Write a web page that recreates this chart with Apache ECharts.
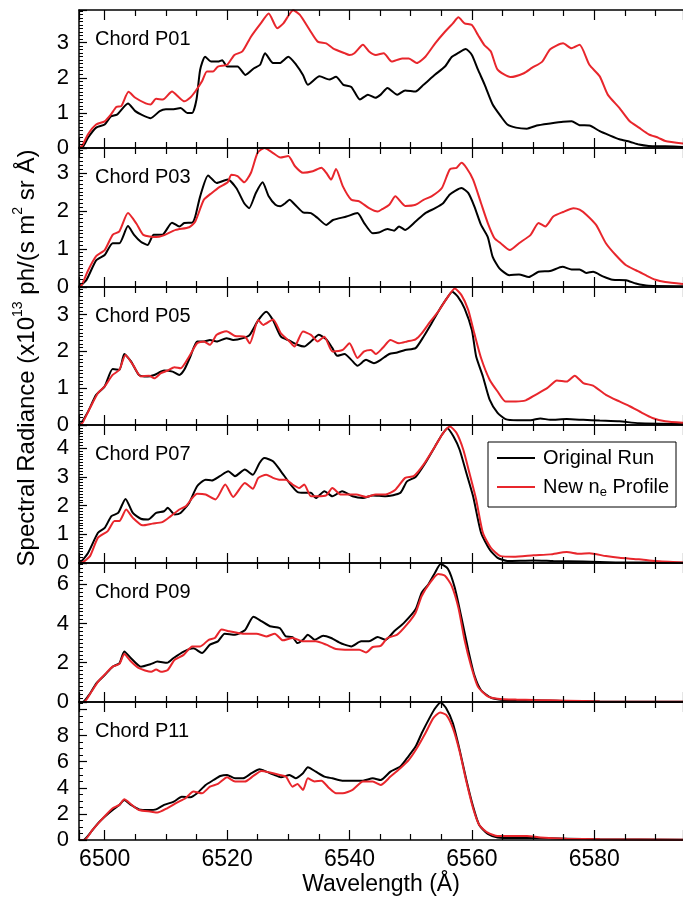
<!DOCTYPE html>
<html>
<head>
<meta charset="utf-8">
<title>Chord spectra</title>
<script src="https://cdn.jsdelivr.net/npm/echarts@6/dist/echarts.min.js"></script>
<style>
    html, body { margin: 0; padding: 0; background: #fff; }
    #chart { width: 683px; height: 899px; }
</style>
</head>
<body>
<div id="chart"></div>
<script>
// x axis (wavelength, Å)
const xMin = 6495.8;
const xMax = 6594.5;
const xTicks = [6500, 6520, 6540, 6560, 6580];

// panels
const chords = ["Chord P01", "Chord P03", "Chord P05", "Chord P07", "Chord P09", "Chord P11"];
const yMax = [3.93, 3.65, 3.75, 4.8, 7.08, 10.58];
const yStep = [1, 1, 1, 1, 2, 2];
const yLabelTop = [3, 3, 3, 4, 6, 8];
const yMinorSplit = [10, 10, 10, 10, 10, 4];

// [wavelength, radiance]
const p01Orig = [[6495.8,0.02],[6496.5,0.05],[6497.3,0.3],[6498.6,0.58],[6500,0.67],[6501,0.9],[6502,0.95],[6503.8,1.27],[6505,1.05],[6506,0.95],[6507.5,0.85],[6509,1.05],[6510,1.1],[6511,1.1],[6512.4,1.14],[6513.5,1.0],[6514.3,1.0],[6515,1.38],[6515.6,2.23],[6516.4,2.6],[6517.4,2.46],[6518.5,2.46],[6519.2,2.5],[6520,2.32],[6521.7,2.32],[6523,2.08],[6524.4,2.27],[6525.4,2.37],[6526.2,2.7],[6527.5,2.42],[6528.6,2.42],[6530,2.6],[6531.3,2.37],[6532.4,2.08],[6533.2,1.8],[6535.1,2.04],[6536.7,1.95],[6537.8,2.03],[6539,1.8],[6540.3,1.74],[6541.7,1.38],[6543,1.52],[6544.2,1.43],[6545.1,1.52],[6546.2,1.71],[6547.8,1.52],[6549.1,1.64],[6550.8,1.61],[6552.1,1.8],[6554,2.09],[6555.6,2.32],[6556.7,2.59],[6557.7,2.7],[6559,2.82],[6560,2.65],[6561,2.23],[6562.1,1.8],[6563.4,1.24],[6564.7,0.91],[6565.8,0.67],[6567.2,0.58],[6569,0.55],[6570.6,0.64],[6572.8,0.7],[6574.9,0.75],[6576.3,0.76],[6577.6,0.65],[6579.2,0.64],[6580.9,0.48],[6582.5,0.36],[6584.1,0.25],[6585.8,0.18],[6587.3,0.1],[6588.9,0.06],[6591.6,0.05],[6594.5,0.03]];
const p01New = [[6495.8,0.02],[6496.3,0.06],[6497.3,0.4],[6498.6,0.67],[6500,0.76],[6501,0.95],[6501.9,1.17],[6502.7,1.19],[6503.9,1.6],[6505,1.43],[6506.7,1.27],[6507.5,1.24],[6508.4,1.4],[6509.5,1.38],[6511,1.61],[6512.2,1.43],[6513,1.33],[6514,1.44],[6514.8,1.61],[6515.9,1.9],[6516.7,2.18],[6517.7,2.18],[6518.5,2.32],[6520,2.37],[6521.2,2.65],[6522.5,2.75],[6523.9,3.17],[6525.5,3.55],[6526.8,3.83],[6528.2,3.41],[6529.2,3.55],[6530.8,3.92],[6531.9,3.79],[6533.5,3.36],[6534.8,3.03],[6536.2,2.98],[6537.3,2.84],[6539.2,2.7],[6540,2.65],[6540.8,2.7],[6542.2,2.94],[6543.2,2.75],[6544.3,2.65],[6545.6,2.7],[6546.9,2.46],[6548.6,2.55],[6549.7,2.55],[6551,2.42],[6552.4,2.6],[6554,2.98],[6555.6,3.31],[6556.9,3.55],[6557.8,3.72],[6558.8,3.55],[6560,3.5],[6561,3.22],[6562,2.94],[6563.1,2.75],[6564.2,2.23],[6566.3,2.02],[6568.5,2.13],[6569.8,2.28],[6571.5,2.46],[6572.8,2.81],[6574.9,2.98],[6576.3,2.84],[6577.6,2.94],[6579.2,2.37],[6580.9,2.04],[6582.2,1.52],[6584.1,1.14],[6585.8,0.76],[6587.3,0.58],[6588.9,0.39],[6590.5,0.29],[6591.6,0.2],[6594.5,0.13]];

const p03Orig = [[6495.8,0.01],[6497,0.18],[6498.6,0.7],[6500,0.84],[6501.3,1.15],[6502.4,1.15],[6503.8,1.6],[6504.8,1.37],[6505.9,1.19],[6507,1.1],[6508,1.37],[6509.4,1.37],[6511,1.69],[6512.2,1.59],[6513,1.68],[6514.3,1.69],[6514.8,1.85],[6515.6,2.38],[6516.9,2.93],[6518.3,2.73],[6520.1,2.82],[6521.5,2.6],[6522.8,2.2],[6523.6,2.07],[6524.7,2.47],[6525.8,2.75],[6526.8,2.38],[6527.9,2.16],[6528.7,2.12],[6529.5,2.2],[6530.2,2.29],[6531.1,2.16],[6532.4,1.96],[6533.7,1.94],[6534.8,1.81],[6536.2,1.63],[6537.3,1.76],[6539.5,1.85],[6541.3,1.94],[6542.4,1.68],[6543.8,1.41],[6544.8,1.43],[6546.2,1.52],[6547.3,1.48],[6548.1,1.59],[6549.1,1.5],[6550.8,1.72],[6552.4,1.94],[6554,2.07],[6555.3,2.2],[6556.4,2.43],[6558.3,2.6],[6559.4,2.47],[6560.4,2.12],[6561.5,1.63],[6562.6,1.31],[6563.4,0.79],[6564.5,0.49],[6566.1,0.31],[6567.7,0.33],[6569.3,0.26],[6570.9,0.4],[6572.8,0.42],[6574.8,0.53],[6576.3,0.46],[6577.6,0.46],[6578.7,0.37],[6579.8,0.4],[6581.4,0.28],[6583,0.19],[6585.2,0.18],[6586.8,0.09],[6588.9,0.03],[6594.5,0.02]];
const p03New = [[6495.8,0.01],[6496.2,0.04],[6497.3,0.44],[6498.6,0.81],[6500,0.97],[6501.3,1.37],[6502.4,1.46],[6503.8,1.94],[6505.2,1.66],[6506.3,1.37],[6508.4,1.31],[6509.5,1.35],[6511.6,1.5],[6513.8,1.57],[6514.8,1.72],[6516.2,2.29],[6517.5,2.47],[6518.8,2.63],[6520.1,2.75],[6520.7,2.95],[6521.7,2.91],[6522.8,2.75],[6523.9,3.0],[6525,3.53],[6526.1,3.65],[6527.4,3.53],[6528.7,3.4],[6530,3.44],[6531.1,3.17],[6532.4,3.0],[6534,3.04],[6535.4,3.13],[6536.2,3.0],[6537,2.82],[6537.8,3.1],[6538.9,2.65],[6540.3,2.29],[6541.6,2.25],[6543.2,2.07],[6544.6,1.98],[6545.4,2.05],[6546.5,2.16],[6547.5,2.38],[6549.1,2.13],[6550.8,2.16],[6552.1,2.29],[6553.4,2.38],[6555.1,2.6],[6556.4,3.09],[6557.5,3.13],[6558.3,3.26],[6559.1,3.13],[6560.2,2.82],[6561.5,2.2],[6562.6,1.68],[6563.7,1.28],[6564.7,1.15],[6566.2,0.97],[6567.7,1.15],[6569.6,1.37],[6570.9,1.68],[6572,1.59],[6573.3,1.85],[6574.9,1.97],[6576.6,2.07],[6577.6,2.03],[6578.7,1.9],[6580.3,1.63],[6581.9,1.15],[6583.5,0.84],[6585.2,0.57],[6586.8,0.44],[6588.4,0.31],[6590,0.19],[6591.6,0.13],[6594.5,0.08]];

const p05Orig = [[6495.8,0],[6496,0.01],[6497.3,0.37],[6498.6,0.82],[6500,1.05],[6501.3,1.52],[6502.4,1.5],[6503.2,1.93],[6504.3,1.73],[6505.6,1.36],[6507,1.32],[6508.1,1.36],[6509.7,1.48],[6511.1,1.45],[6512.2,1.36],[6513,1.5],[6514,1.86],[6515.1,2.27],[6516.2,2.27],[6517.2,2.31],[6518.3,2.27],[6519.9,2.36],[6521,2.31],[6522.6,2.36],[6523.7,2.45],[6525.1,2.85],[6526.4,3.08],[6527.5,2.85],[6528.8,2.4],[6530.2,2.29],[6531.5,2.18],[6532.6,2.13],[6533.7,2.27],[6535,2.45],[6536.2,2.33],[6537.2,2.09],[6538,1.88],[6539.2,1.93],[6540.3,1.77],[6541.3,1.61],[6542.7,1.77],[6544,1.68],[6545.1,1.77],[6546.5,1.93],[6547.8,1.97],[6549.1,2.04],[6550.8,2.09],[6552.1,2.4],[6553.4,2.76],[6554.5,3.08],[6555.9,3.44],[6556.8,3.62],[6557.7,3.49],[6558.8,3.17],[6560,2.58],[6560.7,1.86],[6561.8,1.32],[6562.9,0.69],[6564.2,0.33],[6565.5,0.16],[6567.4,0.13],[6569.6,0.13],[6571.2,0.18],[6572.8,0.14],[6575.5,0.16],[6578.2,0.14],[6580.9,0.12],[6584.1,0.1],[6587.3,0.05],[6594.5,0.03]];
const p05New = [[6495.8,0],[6496.3,0.04],[6497.6,0.46],[6498.9,0.87],[6500,1.05],[6501.3,1.36],[6502.4,1.5],[6503.4,1.9],[6504.6,1.64],[6505.9,1.32],[6507.3,1.34],[6508.1,1.27],[6509.2,1.41],[6510.3,1.48],[6511.4,1.57],[6512.4,1.54],[6513.8,1.86],[6515.1,2.22],[6516.2,2.27],[6517.2,2.18],[6518.3,2.45],[6519.9,2.55],[6521.3,2.42],[6522.9,2.4],[6523.7,2.22],[6525.1,2.85],[6525.9,2.72],[6527.5,2.87],[6528.8,2.49],[6530.2,2.27],[6531,2.13],[6532.4,2.54],[6533.7,2.45],[6534.8,2.27],[6535.9,2.4],[6537.2,2.0],[6538.9,2.04],[6540,2.22],[6541.3,1.82],[6542.4,2.0],[6543.5,2.04],[6544.3,1.93],[6545.4,2.09],[6546.7,2.31],[6548.1,2.22],[6549.4,2.27],[6550.8,2.33],[6551.8,2.49],[6553.2,2.81],[6554.5,3.08],[6555.9,3.44],[6557.2,3.71],[6558.3,3.53],[6559.4,3.13],[6560.4,2.49],[6561.5,1.82],[6562.9,1.23],[6564.2,0.91],[6565.5,0.64],[6567.2,0.64],[6568.8,0.67],[6570.4,0.82],[6572.3,1.0],[6573.9,1.21],[6575.5,1.18],[6576.8,1.34],[6578.2,1.14],[6579.8,1.07],[6581.9,0.82],[6584.1,0.64],[6585.8,0.51],[6587.8,0.33],[6589.5,0.19],[6591.6,0.1],[6594.5,0.06]];

const p07Orig = [[6495.8,0],[6496,0.01],[6497.3,0.36],[6498.9,1.05],[6500,1.22],[6501.1,1.63],[6502.2,1.74],[6503.4,2.23],[6504.6,1.74],[6505.9,1.54],[6507.1,1.51],[6508.4,1.74],[6509.7,1.8],[6510.3,1.92],[6511.4,1.69],[6512.4,1.74],[6513.8,2.09],[6515.1,2.67],[6516.5,2.9],[6517.5,2.87],[6518.8,3.02],[6520.2,3.19],[6521.3,3.02],[6522.9,3.25],[6524.2,3.07],[6525.3,3.48],[6526.1,3.65],[6527.5,3.54],[6528.8,3.19],[6530.2,2.78],[6531.5,2.47],[6532.6,2.44],[6533.7,2.44],[6534.5,2.26],[6535.9,2.5],[6537.2,2.32],[6538.8,2.5],[6540.5,2.32],[6542.2,2.26],[6543.8,2.35],[6545.9,2.32],[6548.3,2.44],[6549.4,2.84],[6550.8,2.99],[6552.4,3.48],[6554,4.06],[6555.1,4.46],[6556,4.69],[6557,4.4],[6558,3.94],[6559.1,3.13],[6560.2,2.32],[6561.5,1.05],[6562.9,0.47],[6564.2,0.18],[6565.8,0.07],[6570.1,0.09],[6573.3,0.07],[6578.2,0.05],[6583.5,0.02],[6594.5,0.01]];
const p07New = [[6495.8,0],[6496.3,0.01],[6497.6,0.24],[6498.9,0.88],[6500.5,1.11],[6501.6,1.46],[6502.4,1.46],[6503.5,1.86],[6504.6,1.57],[6506.2,1.31],[6507.8,1.37],[6509.4,1.42],[6510.8,1.63],[6512.2,1.86],[6513.3,1.98],[6514.3,2.26],[6515.1,2.41],[6516.5,2.38],[6518.1,2.21],[6519.7,2.73],[6521,2.3],[6522.9,2.78],[6524.2,2.58],[6525.1,2.96],[6526.4,3.07],[6527.5,2.96],[6528.5,2.9],[6529.6,2.9],[6530.7,2.73],[6531.8,2.61],[6532.6,2.73],[6533.7,2.32],[6534.8,2.32],[6536.2,2.35],[6537.2,2.61],[6538.6,2.38],[6541.1,2.38],[6542.7,2.3],[6544.3,2.38],[6545.9,2.38],[6547.5,2.55],[6549.1,2.96],[6550.5,3.02],[6552.1,3.42],[6554,4.06],[6555.3,4.52],[6556.4,4.75],[6557.5,4.52],[6558.6,3.94],[6559.6,3.13],[6560.7,2.21],[6561.8,1.05],[6563.1,0.53],[6564.7,0.24],[6566.8,0.22],[6570.1,0.27],[6572.8,0.3],[6575.5,0.38],[6577.6,0.32],[6579.2,0.34],[6581.9,0.24],[6584.1,0.18],[6587.3,0.13],[6590,0.07],[6594.5,0.02]];

const p09Orig = [[6495.8,0],[6496.4,0],[6497.6,0.43],[6498.6,0.94],[6500,1.37],[6501.3,1.8],[6502.4,1.97],[6503.2,2.57],[6504.3,2.23],[6505.9,1.8],[6507.6,1.94],[6508.6,2.06],[6510.2,2.0],[6511.2,2.23],[6512.9,2.57],[6514.5,2.74],[6515.9,2.49],[6517.2,2.92],[6518.5,3.09],[6519.6,3.48],[6521.3,3.43],[6522.9,3.65],[6524.3,4.34],[6525.6,4.12],[6527,3.86],[6528.6,3.77],[6529.6,3.34],[6530.7,3.31],[6531.5,3.0],[6532.4,3.17],[6533.2,3.43],[6534.3,3.17],[6535.7,3.38],[6537,3.26],[6538.3,3.04],[6539.2,2.92],[6540.3,2.83],[6541.9,3.09],[6543.2,3.09],[6544.6,3.31],[6545.9,3.17],[6547.3,3.6],[6548.9,4.03],[6550.8,4.72],[6551.8,5.57],[6552.9,6.0],[6554,6.6],[6554.9,7.03],[6556.1,6.78],[6557.2,5.83],[6558.3,4.29],[6559.4,2.66],[6560.4,1.37],[6561.5,0.6],[6563.1,0.22],[6564.7,0.12],[6567.4,0.09],[6570.1,0.09],[6575.5,0.05],[6580.9,0.02],[6594.5,0.01]];
const p09New = [[6495.8,0],[6496.6,0],[6497.8,0.51],[6498.9,1.03],[6500.2,1.46],[6501.3,1.8],[6502.4,1.94],[6503.2,2.45],[6504.3,2.06],[6505.6,1.72],[6507.6,1.54],[6508.4,1.66],[6509.2,1.54],[6510.3,1.63],[6511.4,2.14],[6512.9,2.4],[6514.3,2.83],[6515.6,2.83],[6517,3.17],[6518,3.26],[6519.1,3.69],[6520.4,3.6],[6522.6,3.48],[6524.8,3.48],[6526.4,3.34],[6527.8,3.48],[6529.1,3.14],[6530.7,3.26],[6532.4,3.09],[6534.5,3.09],[6536.2,2.92],[6537.8,2.7],[6540,2.66],[6541.6,2.66],[6542.7,2.52],[6543.8,2.8],[6545.1,2.86],[6546.2,3.26],[6547.8,3.43],[6549.4,3.95],[6550.8,4.55],[6551.8,5.4],[6553.2,6.09],[6554.5,6.52],[6555.6,6.43],[6556.7,5.92],[6557.8,4.8],[6558.8,3.17],[6559.9,1.8],[6561,0.77],[6562.6,0.29],[6564.2,0.17],[6567.4,0.12],[6570.1,0.1],[6575.5,0.07],[6580.9,0.03],[6594.5,0.01]];

const p11Orig = [[6495.8,0],[6496.5,0],[6497.8,0.64],[6498.9,1.28],[6500,1.79],[6501.3,2.3],[6502.4,2.69],[6503.2,3.07],[6504.3,2.69],[6505.6,2.35],[6507.3,2.3],[6508.4,2.35],[6509.7,2.69],[6511.3,2.94],[6512.6,3.32],[6514,3.27],[6515.1,3.58],[6516.5,4.22],[6517.8,4.6],[6518.9,4.91],[6520,4.99],[6521.3,4.73],[6522.6,4.73],[6524,5.12],[6525.3,5.42],[6526.4,5.24],[6527.7,4.99],[6528.8,4.81],[6530.2,4.99],[6531.2,4.73],[6532.4,5.12],[6533.2,5.58],[6534.5,5.24],[6535.9,4.86],[6537.2,4.73],[6538.8,4.55],[6540,4.55],[6542.2,4.55],[6543.8,4.73],[6545.1,4.6],[6546.7,5.24],[6548.3,5.63],[6549.4,6.27],[6550.8,7.16],[6551.8,8.18],[6553.2,9.46],[6554,10.1],[6554.9,10.54],[6555.8,10.1],[6556.9,8.95],[6558,6.91],[6559.1,4.6],[6560.2,2.56],[6561.2,1.15],[6562.6,0.46],[6564.2,0.2],[6566.9,0.15],[6570.1,0.15],[6575.5,0.1],[6580.9,0.05],[6594.5,0.02]];
const p11New = [[6495.8,0],[6496.7,0],[6498,0.77],[6499.2,1.41],[6500.2,1.92],[6501.3,2.43],[6502.4,2.69],[6503.2,3.12],[6504.3,2.74],[6505.6,2.3],[6507.6,2.17],[6508.6,2.1],[6510.2,2.43],[6511.8,2.86],[6513.2,3.2],[6514.5,3.71],[6515.9,3.58],[6517.2,4.09],[6518.5,4.3],[6520,4.81],[6521.3,4.48],[6522.9,4.48],[6524.3,4.91],[6525.6,5.29],[6527,5.17],[6528.6,4.99],[6529.6,4.86],[6530.7,4.09],[6531.5,4.3],[6532.4,3.84],[6533.2,4.73],[6534.3,4.48],[6535.4,4.55],[6536.7,3.96],[6537.8,3.58],[6538.9,3.58],[6540.5,3.84],[6542.2,4.48],[6543.8,4.48],[6545.1,4.22],[6546.7,4.86],[6548.3,5.5],[6549.7,6.14],[6551,7.03],[6552.4,8.18],[6553.7,9.34],[6554.8,9.77],[6555.8,9.59],[6556.9,8.57],[6558,6.78],[6559.1,4.48],[6560.2,2.43],[6561.2,1.15],[6562.6,0.56],[6564.2,0.31],[6566.9,0.31],[6569,0.31],[6571.2,0.2],[6575.5,0.1],[6580.9,0.05],[6594.5,0.02]];

const origRuns = [p01Orig, p03Orig, p05Orig, p07Orig, p09Orig, p11Orig];
const newRuns = [p01New, p03New, p05New, p07New, p09New, p11New];

const FONT = "Liberation Sans";
const RED = "#e8262c";
const AXIS_Z = 10;
const nPanels = chords.length;

const grids = [];
const xAxes = [];
const yAxes = [];
const series = [];
const graphics = [];

// one wavelength axis; the top copy only carries the downward ticks
function wavelengthAxis(i, position, withLabels) {
    return {
        type: "value",
        gridIndex: i,
        position: position,
        z: AXIS_Z,
        min: xMin,
        max: xMax,
        splitNumber: 5,
        splitLine: { show: false },
        axisLine: { show: true, onZero: false, lineStyle: { color: "#000", width: 1.5 } },
        axisTick: { show: true, inside: true, length: 10, lineStyle: { color: "#000", width: 1.2 } },
        minorTick: { show: true, splitNumber: 4, length: 6, lineStyle: { color: "#000", width: 1.2 } },
        axisLabel: {
            show: withLabels,
            customValues: xTicks,
            formatter: (v) => String(v),
            color: "#000",
            fontSize: 23,
            fontFamily: FONT,
            margin: 8,
        },
    };
}

for (let i = 0; i < nPanels; i++) {
    const top = Math.round(10 + i * 138.33);
    const bottom = Math.round(10 + (i + 1) * 138.33);
    grids.push({ left: 79, width: 612, top: top, height: bottom - top });

    xAxes.push(wavelengthAxis(i, "bottom", i === nPanels - 1));
    xAxes.push(wavelengthAxis(i, "top", false));

    yAxes.push({
        type: "value",
        gridIndex: i,
        position: "left",
        z: AXIS_Z,
        min: 0,
        max: yMax[i],
        interval: yStep[i],
        splitLine: { show: false },
        axisLine: { show: true, onZero: false, lineStyle: { color: "#000", width: 1.5 } },
        axisTick: { show: true, inside: true, length: 8, lineStyle: { color: "#000", width: 1.2 } },
        minorTick: { show: true, splitNumber: yMinorSplit[i], length: 4, lineStyle: { color: "#000", width: 1 } },
        axisLabel: {
            color: "#000",
            fontSize: 22,
            fontFamily: FONT,
            margin: 10,
            formatter: (v) => (v <= yLabelTop[i] && Math.abs(v / yStep[i] - Math.round(v / yStep[i])) < 1e-6 ? String(v) : ""),
        },
    });

    series.push({
        name: "Original Run",
        type: "line",
        xAxisIndex: 2 * i,
        yAxisIndex: i,
        data: origRuns[i],
        symbol: "none",
        smooth: 0.2,
        lineStyle: { color: "#000", width: 2 },
    });
    series.push({
        name: "New ne Profile",
        type: "line",
        xAxisIndex: 2 * i,
        yAxisIndex: i,
        data: newRuns[i],
        symbol: "none",
        smooth: 0.2,
        lineStyle: { color: RED, width: 2 },
    });

    graphics.push({
        type: "text",
        x: 95,
        y: top + 29,
        style: { text: chords[i], fill: "#000", fontSize: 20, fontFamily: FONT, verticalAlign: "middle" },
    });
}

// axis titles
graphics.push({
    type: "text",
    x: 381,
    y: 885,
    style: { text: "Wavelength (Å)", fill: "#000", fontSize: 23, fontFamily: FONT, align: "center", verticalAlign: "middle" },
});
graphics.push({
    type: "text",
    x: 25,
    y: 358,
    rotation: Math.PI / 2,
    style: {
        text: "{a|Spectral Radiance (x10}{s|13}{a| ph/(s m}{s|2}{a| sr Å)}",
        align: "center",
        verticalAlign: "middle",
        fill: "#000",
        rich: {
            a: { fontSize: 24, fontFamily: FONT, fill: "#000", lineHeight: 28, verticalAlign: "bottom" },
            s: { fontSize: 14, fontFamily: FONT, fill: "#000", lineHeight: 28, verticalAlign: "top" },
        },
    },
});

// legend box
graphics.push({ type: "rect", shape: { x: 488, y: 442, width: 188, height: 65 }, style: { fill: "#fff", stroke: "#000", lineWidth: 1 }, z: 20 });
graphics.push({ type: "line", shape: { x1: 497, y1: 458, x2: 535, y2: 458 }, style: { stroke: "#000", lineWidth: 2 }, z: 21 });
graphics.push({ type: "line", shape: { x1: 497, y1: 487, x2: 535, y2: 487 }, style: { stroke: RED, lineWidth: 2 }, z: 21 });
graphics.push({ type: "text", x: 543, y: 458, z: 21, style: { text: "Original Run", fill: "#000", fontSize: 20, fontFamily: FONT, verticalAlign: "middle" } });
graphics.push({
    type: "text",
    x: 543,
    y: 487,
    z: 21,
    style: {
        text: "{t|New n}{s|e}{t| Profile}",
        verticalAlign: "middle",
        fill: "#000",
        rich: {
            t: { fontSize: 20, fontFamily: FONT, fill: "#000", lineHeight: 24, verticalAlign: "middle" },
            s: { fontSize: 13, fontFamily: FONT, fill: "#000", lineHeight: 24, verticalAlign: "bottom", padding: [7, 0, 0, 0] },
        },
    },
});

const chart = echarts.init(document.getElementById("chart"));
chart.setOption({
    animation: false,
    textStyle: { fontFamily: FONT },
    grid: grids,
    xAxis: xAxes,
    yAxis: yAxes,
    graphic: graphics,
    series: series,
});
</script>
</body>
</html>
